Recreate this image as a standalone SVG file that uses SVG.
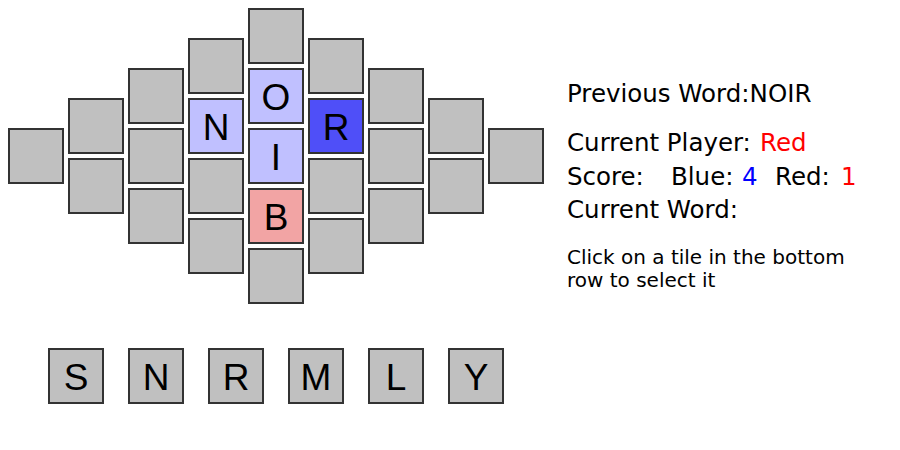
<svg xmlns="http://www.w3.org/2000/svg" width="900" height="450" viewBox="0 0 900 450">
<style>
.t{stroke:#333;stroke-width:2}
.g{fill:#c0c0c0}
.lb{fill:#c0c0ff}
.db{fill:#4f4ff8}
.pk{fill:#f2a4a4}
.L{font-family:"Liberation Sans",Arial,sans-serif;font-size:37px;fill:#000;text-anchor:middle}
.i{font-family:"DejaVu Sans",Verdana,sans-serif;fill:#000}
.big{font-size:24.5px}
.sm{font-size:20px}
</style>
<rect width="900" height="450" fill="#fff"/>
<g id="board">
<g id="c0"><rect class="t g" x="9" y="129" width="54" height="54"/></g>
<g id="c1"><rect class="t g" x="69" y="99" width="54" height="54"/><rect class="t g" x="69" y="159" width="54" height="54"/></g>
<g id="c2"><rect class="t g" x="129" y="69" width="54" height="54"/><rect class="t g" x="129" y="129" width="54" height="54"/><rect class="t g" x="129" y="189" width="54" height="54"/></g>
<g id="c3"><rect class="t g" x="189" y="39" width="54" height="54"/>
<g id="tN"><rect class="t lb" x="189" y="99" width="54" height="54"/><text class="L" x="216" y="139.5">N</text></g>
<rect class="t g" x="189" y="159" width="54" height="54"/><rect class="t g" x="189" y="219" width="54" height="54"/></g>
<g id="c4"><rect class="t g" x="249" y="9" width="54" height="54"/>
<g id="tO"><rect class="t lb" x="249" y="69" width="54" height="54"/><text class="L" x="276" y="109.5">O</text></g>
<g id="tI"><rect class="t lb" x="249" y="129" width="54" height="54"/><text class="L" x="276" y="169.5">I</text></g>
<g id="tB"><rect class="t pk" x="249" y="189" width="54" height="54"/><text class="L" x="276" y="229.5">B</text></g>
<rect class="t g" x="249" y="249" width="54" height="54"/></g>
<g id="c5"><rect class="t g" x="309" y="39" width="54" height="54"/>
<g id="tR"><rect class="t db" x="309" y="99" width="54" height="54"/><text class="L" x="336" y="139.5">R</text></g>
<rect class="t g" x="309" y="159" width="54" height="54"/><rect class="t g" x="309" y="219" width="54" height="54"/></g>
<g id="c6"><rect class="t g" x="369" y="69" width="54" height="54"/><rect class="t g" x="369" y="129" width="54" height="54"/><rect class="t g" x="369" y="189" width="54" height="54"/></g>
<g id="c7"><rect class="t g" x="429" y="99" width="54" height="54"/><rect class="t g" x="429" y="159" width="54" height="54"/></g>
<g id="c8"><rect class="t g" x="489" y="129" width="54" height="54"/></g>
</g>
<g id="rack">
<g id="r1"><rect class="t g" x="49" y="349" width="54" height="54"/><text class="L" x="76" y="389.5">S</text></g>
<g id="r2"><rect class="t g" x="129" y="349" width="54" height="54"/><text class="L" x="156" y="389.5">N</text></g>
<g id="r3"><rect class="t g" x="209" y="349" width="54" height="54"/><text class="L" x="236" y="389.5">R</text></g>
<g id="r4"><rect class="t g" x="289" y="349" width="54" height="54"/><text class="L" x="316" y="389.5">M</text></g>
<g id="r5"><rect class="t g" x="369" y="349" width="54" height="54"/><text class="L" x="396" y="389.5">L</text></g>
<g id="r6"><rect class="t g" x="449" y="349" width="54" height="54"/><text class="L" x="476" y="389.5">Y</text></g>
</g>
<g id="info">
<text class="i big" x="567" y="102">Previous Word:NOIR</text>
<text class="i big" x="567" y="151">Current Player: <tspan x="760" fill="#ff0000">Red</tspan></text>
<text class="i big" x="567" y="184.5">Score:<tspan x="671">Blue:</tspan><tspan x="742" fill="#0000ff">4</tspan><tspan x="775">Red:</tspan><tspan x="841" fill="#ff0000">1</tspan></text>
<text class="i big" x="567" y="218">Current Word:</text>
<text class="i sm" x="567" y="263.5">Click on a tile in the bottom</text>
<text class="i sm" x="567" y="287">row to select it</text>
</g>
</svg>
